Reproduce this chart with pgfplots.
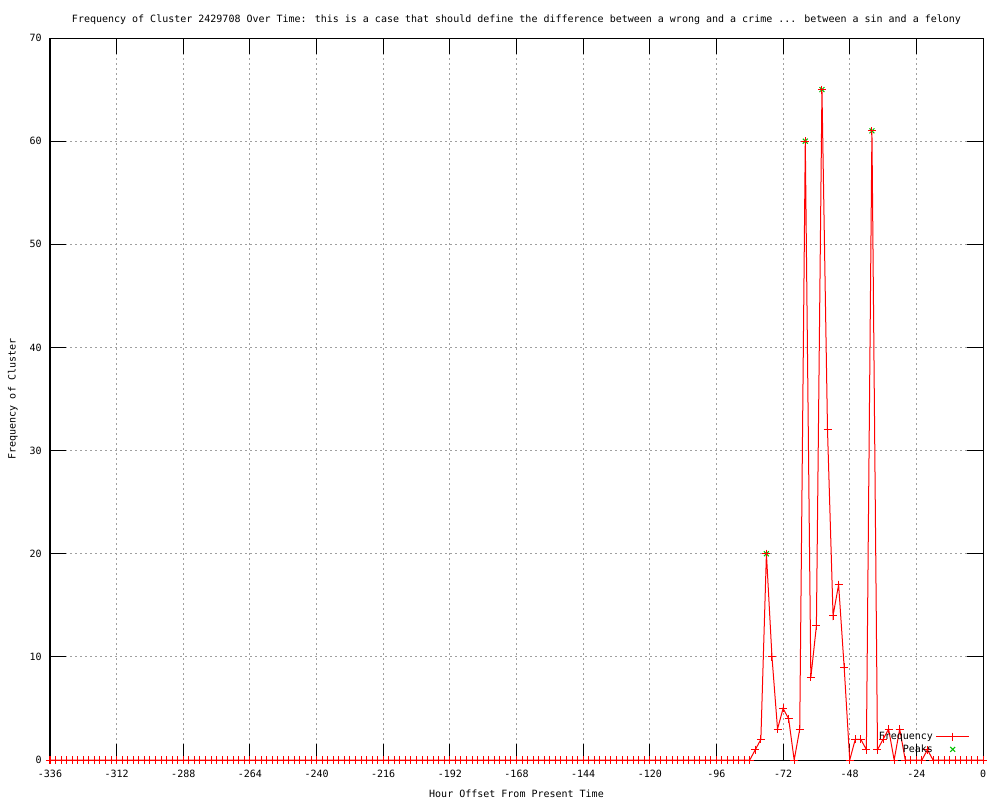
\documentclass[border=0pt]{standalone}
\usepackage{fontspec}
\setmainfont{DejaVu Sans Mono}
\usepackage{pgfplots}
\pgfplotsset{compat=1.18}
\definecolor{gpred}{RGB}{255,0,0}
\definecolor{gpgreen}{RGB}{0,192,0}
\definecolor{gpgrid}{RGB}{160,160,160}
\begin{document}
\begin{tikzpicture}[font=\fontsize{7.5pt}{9pt}\selectfont]
\begin{axis}[
  at={(0,0)}, anchor=south west,
  scale only axis,
  width=699.75pt, height=541.5pt,
  xmin=-336, xmax=0, ymin=0, ymax=70,
  xtick={-336,-312,...,0},
  ytick={0,10,...,70},
  /pgf/number format/assume math mode=true,
  ticklabel style={font=\fontsize{7.5pt}{9pt}\selectfont},
  xticklabel style={anchor=base, yshift=-12.75pt},
  yticklabel style={anchor=east, inner sep=0pt, xshift=-6pt},
  tick align=inside,
  major tick length=12pt,
  tick style={black, line width=0.75pt},
  axis line style={black, line width=0.75pt},
  grid=major,
  major grid style={gpgrid, line width=0.75pt, dash pattern=on 1.5pt off 2.25pt},
  title={Frequency of Cluster 2429708 Over Time: this is a case that should define the difference between a wrong and a crime ... between a sin and a felony},
  title style={at={(axis description cs:0.5,1.011)}, anchor=base, inner sep=0pt},
  xlabel={Hour Offset From Present Time},
  xlabel style={at={(axis description cs:0.5,-0.0513)}, anchor=base, inner sep=0pt},
  ylabel={Frequency of Cluster},
  ylabel style={at={(axis description cs:-0.0397,0.5)}, anchor=center, inner sep=0pt},
  legend image code/.code={\draw[mark repeat=2,mark phase=2,#1] plot coordinates {(0pt,0pt) (12.4pt,0pt) (24.75pt,0pt)};},
  legend style={at={(axis description cs:0.986,0.004)}, anchor=south east, draw=none, fill=none,
    legend plot pos=right, cells={anchor=east}, inner sep=0pt, row sep=-1.5pt,
    font=\fontsize{7.5pt}{9pt}\selectfont},
]
% peaks (drawn first, beneath the frequency marks)
\addplot[gpgreen, only marks, mark=x, mark size=2.6pt, line width=0.75pt, forget plot]
  coordinates {(-78,20) (-64,60) (-58,65) (-40,61)};
% frequency
\addplot[gpred, line width=0.75pt, mark=+, mark size=3pt, mark options={solid, line width=0.75pt}]
  coordinates {
  (-336,0) (-334,0) (-332,0) (-330,0) (-328,0) (-326,0) (-324,0) (-322,0) (-320,0) (-318,0)
  (-316,0) (-314,0) (-312,0) (-310,0) (-308,0) (-306,0) (-304,0) (-302,0) (-300,0) (-298,0)
  (-296,0) (-294,0) (-292,0) (-290,0) (-288,0) (-286,0) (-284,0) (-282,0) (-280,0) (-278,0)
  (-276,0) (-274,0) (-272,0) (-270,0) (-268,0) (-266,0) (-264,0) (-262,0) (-260,0) (-258,0)
  (-256,0) (-254,0) (-252,0) (-250,0) (-248,0) (-246,0) (-244,0) (-242,0) (-240,0) (-238,0)
  (-236,0) (-234,0) (-232,0) (-230,0) (-228,0) (-226,0) (-224,0) (-222,0) (-220,0) (-218,0)
  (-216,0) (-214,0) (-212,0) (-210,0) (-208,0) (-206,0) (-204,0) (-202,0) (-200,0) (-198,0)
  (-196,0) (-194,0) (-192,0) (-190,0) (-188,0) (-186,0) (-184,0) (-182,0) (-180,0) (-178,0)
  (-176,0) (-174,0) (-172,0) (-170,0) (-168,0) (-166,0) (-164,0) (-162,0) (-160,0) (-158,0)
  (-156,0) (-154,0) (-152,0) (-150,0) (-148,0) (-146,0) (-144,0) (-142,0) (-140,0) (-138,0)
  (-136,0) (-134,0) (-132,0) (-130,0) (-128,0) (-126,0) (-124,0) (-122,0) (-120,0) (-118,0)
  (-116,0) (-114,0) (-112,0) (-110,0) (-108,0) (-106,0) (-104,0) (-102,0) (-100,0) (-98,0)
  (-96,0) (-94,0) (-92,0) (-90,0) (-88,0) (-86,0) (-84,0)
  (-82,1) (-80,2) (-78,20) (-76,10) (-74,3) (-72,5) (-70,4) (-68,0) (-66,3) (-64,60)
  (-62,8) (-60,13) (-58,65) (-56,32) (-54,14) (-52,17) (-50,9) (-48,0) (-46,2) (-44,2)
  (-42,1) (-40,61) (-38,1) (-36,2) (-34,3) (-32,0) (-30,3) (-28,0) (-26,0) (-24,0)
  (-22,0) (-20,1) (-18,0) (-16,0) (-14,0) (-12,0) (-10,0) (-8,0) (-6,0) (-4,0)
  (-2,0) (0,0)
  };
\addlegendentry{Frequency}
\addlegendimage{gpgreen, only marks, mark=x, mark size=2.6pt, line width=0.75pt}
\addlegendentry{Peaks}
% black border line over the zero values
\addplot[black, line width=0.75pt, no marks, forget plot] coordinates {(-336,0) (0,0)};
\end{axis}
\pgfresetboundingbox
\path[use as bounding box] (-37.5pt,-30pt) rectangle (712.5pt,570pt);
\end{tikzpicture}
\end{document}
